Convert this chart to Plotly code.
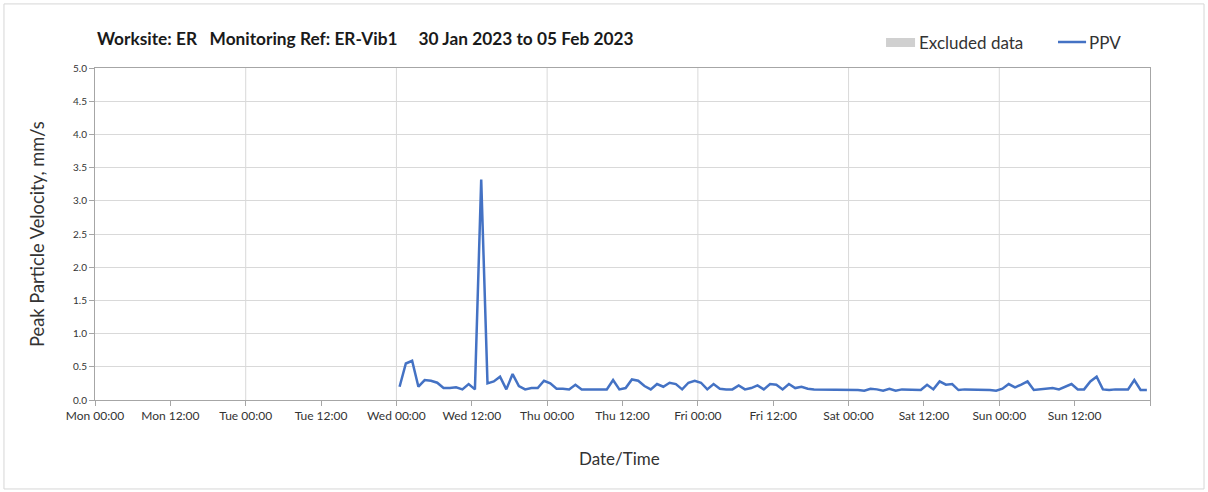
import plotly.graph_objects as go
import pandas as pd

# ---- data ----
start_time = "2023-02-01 00:30"
ppv = [
    0.20, 0.55, 0.59, 0.20, 0.30, 0.29, 0.26, 0.18, 0.18, 0.19,
    0.16, 0.24, 0.16, 3.32, 0.25, 0.28, 0.35, 0.16, 0.39, 0.21,
    0.16, 0.18, 0.18, 0.29, 0.25, 0.17, 0.17, 0.16, 0.23, 0.16,
    0.16, 0.16, 0.16, 0.16, 0.30, 0.16, 0.18, 0.31, 0.29, 0.21,
    0.16, 0.24, 0.20, 0.26, 0.24, 0.16, 0.26, 0.29, 0.26, 0.16,
    0.24, 0.17, 0.16, 0.16, 0.22, 0.16, 0.18, 0.22, 0.16, 0.24,
    0.23, 0.16, 0.24, 0.18, 0.20, 0.17, 0.16, 0.16, 0.16, 0.16,
    0.16, 0.16, 0.16, 0.15, 0.14, 0.17, 0.16, 0.14, 0.17, 0.14,
    0.16, 0.16, 0.16, 0.15, 0.23, 0.16, 0.28, 0.23, 0.24, 0.15,
    0.16, 0.16, 0.16, 0.15, 0.15, 0.14, 0.17, 0.24, 0.19, 0.23,
    0.28, 0.15, 0.16, 0.16, 0.18, 0.16, 0.20, 0.24, 0.16, 0.16,
    0.28, 0.35, 0.16, 0.15, 0.16, 0.16, 0.16, 0.30, 0.15, 0.15,
]
times = pd.date_range(start_time, periods=len(ppv), freq="h")

x_start = "2023-01-30 00:00"
x_end = "2023-02-06 00:00"
day_lines = pd.date_range(x_start, x_end, freq="D")
x_tick_vals = pd.date_range(x_start, x_end, freq="12h")
x_tick_text = [t.strftime("%a %H:%M") for t in x_tick_vals[:-1]] + [""]
y_ticks = [0.0, 0.5, 1.0, 1.5, 2.0, 2.5, 3.0, 3.5, 4.0, 4.5, 5.0]

title_text = ("Worksite: ER\u00a0\u00a0\u00a0Monitoring Ref: ER-Vib1"
              "\u00a0\u00a0\u00a0\u00a0\u00a030 Jan 2023 to 05 Feb 2023")

FONT = "Lato, Open Sans, sans-serif"
TXT = "#333333"
GRID = "#d9d9d9"
AXIS = "#a6a6a6"
LINE = "#4472C4"

fig = go.Figure()
fig.add_trace(go.Scatter(x=times, y=ppv, mode="lines", name="PPV",
                         line=dict(color=LINE, width=2.5), showlegend=False))

shapes = []
for d in day_lines[1:-1]:
    shapes.append(dict(type="line", xref="x", yref="paper", x0=d, x1=d,
                       y0=0, y1=1, line=dict(color=GRID, width=1), layer="below"))
# outer frame
shapes.append(dict(type="rect", xref="paper", yref="paper",
                   x0=-0.0863, x1=1.0512, y0=-0.268, y1=1.193,
                   line=dict(color="#d6d6d6", width=1), fillcolor="rgba(0,0,0,0)"))
# legend symbols
shapes.append(dict(type="rect", xref="paper", yref="paper",
                   x0=0.7498, x1=0.7773, y0=1.0633, y1=1.0904,
                   line=dict(width=0), fillcolor="#d0d0d0"))
shapes.append(dict(type="line", xref="paper", yref="paper",
                   x0=0.9128, x1=0.9394, y0=1.0783, y1=1.0783,
                   line=dict(color=LINE, width=2.5)))

annotations = [
    dict(text="<b>" + title_text + "</b>", xref="paper", yref="paper",
         x=0, y=1.09, xanchor="left", yanchor="middle", showarrow=False,
         font=dict(size=17.3, color="#1a1a1a", family=FONT)),
    dict(text="Excluded data", xref="paper", yref="paper", x=0.7792, y=1.078,
         xanchor="left", yanchor="middle", showarrow=False,
         font=dict(size=17, color=TXT, family=FONT)),
    dict(text="PPV", xref="paper", yref="paper", x=0.9403, y=1.078,
         xanchor="left", yanchor="middle", showarrow=False,
         font=dict(size=17, color=TXT, family=FONT)),
    dict(text="Date/Time", xref="paper", yref="paper", x=0.4972, y=-0.175,
         xanchor="center", yanchor="middle", showarrow=False,
         font=dict(size=17, color=TXT, family=FONT)),
    dict(text="Peak Particle Velocity, mm/s", xref="paper", yref="paper",
         x=-0.055, y=0.5, xanchor="center", yanchor="middle", textangle=-90,
         showarrow=False, font=dict(size=18.3, color=TXT, family=FONT)),
]

fig.update_layout(
    width=1208, height=492,
    margin=dict(l=95, r=58, t=68, b=92, autoexpand=False),
    paper_bgcolor="white", plot_bgcolor="white",
    font=dict(family=FONT, color=TXT, size=11),
    shapes=shapes, annotations=annotations,
    showlegend=False,
)
fig.update_xaxes(
    type="date", range=[x_start, x_end],
    tickmode="array", tickvals=x_tick_vals, ticktext=x_tick_text,
    showgrid=False, showline=True, linecolor=AXIS, linewidth=1, mirror=True,
    ticks="outside", ticklen=5, tickcolor=AXIS,
    tickfont=dict(size=12, color=TXT), automargin=False,
)
fig.update_yaxes(
    range=[0, 5.0], tickvals=y_ticks, tickformat=".1f",
    showgrid=True, gridcolor=GRID, gridwidth=1,
    showline=True, linecolor=AXIS, linewidth=1, mirror=True,
    ticks="outside", ticklen=5, tickcolor=AXIS,
    tickfont=dict(size=10, color=TXT), zeroline=False, automargin=False,
)

fig.write_html("out.html", config={"displayModeBar": False},
               post_script="document.body.style.margin='0';document.body.style.overflow='hidden';")
